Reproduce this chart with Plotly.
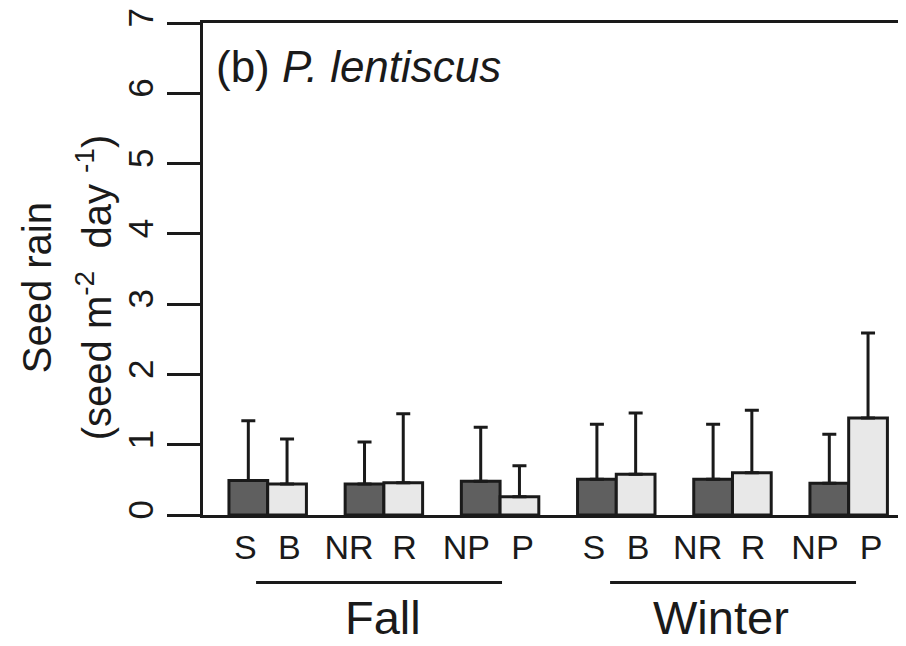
import plotly.graph_objects as go

categories = ["S", "B", "NR", "R", "NP", "P"]
seasons = ["Fall", "Winter"]
# mean seed rain and upper error (top of error bar) per season, per category
fall_mean = [0.49, 0.44, 0.44, 0.46, 0.48, 0.26]
fall_top = [1.34, 1.08, 1.04, 1.44, 1.25, 0.70]
winter_mean = [0.51, 0.58, 0.51, 0.60, 0.45, 1.38]
winter_top = [1.29, 1.45, 1.29, 1.49, 1.15, 2.59]
y_ticks = [0, 1, 2, 3, 4, 5, 6, 7]

DARK = "#5f5f5f"
LIGHT = "#e8e8e8"
INK = "#1a1a1a"
FONT = "Liberation Sans, Arial, sans-serif"
# horizontal nudge of each category label relative to its bar (in bar widths)
LABEL_NUDGE = [-0.08, 0.06, -0.40, 0.03, -0.37, 0.08]

means = fall_mean + winter_mean
tops = fall_top + winter_top
labels = categories + categories
xs = []
label_pos = []
for i in range(len(labels)):
    pair, j = divmod(i, 2)
    xs.append(3 * pair + j)
    label_pos.append(3 * pair + j + LABEL_NUDGE[i % 6])

fig = go.Figure()
for j, col in enumerate([DARK, LIGHT]):
    idx = [i for i in range(len(labels)) if i % 2 == j]
    fig.add_trace(go.Bar(
        x=[xs[i] for i in idx],
        y=[means[i] for i in idx],
        width=1.0,
        marker=dict(color=col, line=dict(color=INK, width=3)),
        error_y=dict(type="data", symmetric=False,
                     array=[tops[i] - means[i] for i in idx],
                     arrayminus=[0] * len(idx),
                     color=INK, thickness=3, width=7),
        showlegend=False,
    ))

# season group lines and labels
season_spans = {"Fall": (0.20, 6.55), "Winter": (9.34, 15.69)}
season_centers = {"Fall": 3.48, "Winter": 12.2}
for s in seasons:
    a, b = season_spans[s]
    fig.add_shape(type="line", xref="x", yref="paper", x0=a, x1=b,
                  y0=-0.137, y1=-0.137, line=dict(color=INK, width=3))
    fig.add_annotation(text=s, xref="x", yref="paper", x=season_centers[s],
                       y=-0.209, showarrow=False, xanchor="center", yanchor="middle",
                       font=dict(family=FONT, size=47, color=INK))

fig.add_annotation(text="(b) <i>P. lentiscus</i>", xref="paper", yref="paper",
                   x=0.015, y=0.911, xanchor="left", yanchor="middle", showarrow=False,
                   font=dict(family=FONT, size=44, color=INK))
fig.add_annotation(text="Seed rain", xref="paper", yref="paper",
                   x=-0.236, y=0.461, textangle=-90, showarrow=False,
                   xanchor="center", yanchor="middle",
                   font=dict(family=FONT, size=40, color=INK))
fig.add_annotation(text="(seed m<sup>-2</sup>  day <sup>-1</sup>)", xref="paper", yref="paper",
                   x=-0.155, y=0.461, textangle=-90, showarrow=False,
                   xanchor="center", yanchor="middle",
                   font=dict(family=FONT, size=40, color=INK))

# the page body adds an 8 px margin, so the figure is 8 px smaller each way
fig.update_layout(
    width=898, height=638,
    margin=dict(l=195, r=0, t=10, b=131),
    paper_bgcolor="white", plot_bgcolor="white",
    barmode="overlay",
    font=dict(family=FONT, color=INK),
)
fig.update_xaxes(range=[-1.17, 16.98], tickvals=label_pos, ticktext=labels, ticks="",
                 tickangle=0,
                 showline=True, linecolor=INK, linewidth=3, mirror=True,
                 showgrid=False, zeroline=False,
                 tickfont=dict(family=FONT, size=34, color=INK))
fig.update_yaxes(range=[0, 7], tickvals=y_ticks, ticks="outside", ticklen=33,
                 tickwidth=3, tickcolor=INK, tickangle=-90,
                 ticklabeloverflow="allow",
                 showline=True, linecolor=INK, linewidth=3,
                 showgrid=False, zeroline=False,
                 tickfont=dict(family=FONT, size=35, color=INK))

fig.write_html("out.html")
